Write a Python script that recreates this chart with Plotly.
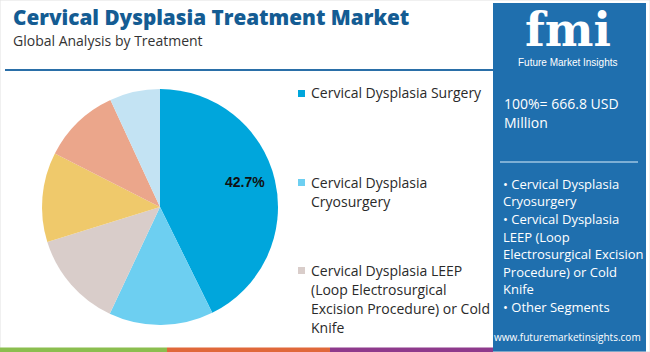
import math
import plotly.graph_objects as go

W, H = 650, 352

categories = [
    "Cervical Dysplasia Surgery",
    "Cervical Dysplasia Cryosurgery",
    "Cervical Dysplasia LEEP (Loop Electrosurgical Excision Procedure) or Cold Knife",
    "Segment 4",
    "Segment 5",
    "Segment 6",
]
shares = [42.7, 14.3, 13.2, 12.3, 10.6, 6.9]
slice_labels = ["42.7%", "", "", "", "", ""]
colors = ["#00A6DC", "#6DCFF1", "#D9CDCA", "#EFC96B", "#EBA68B", "#C3E3F3"]

legend_lines = [
    ["Cervical Dysplasia Surgery"],
    ["Cervical Dysplasia", "Cryosurgery"],
    ["Cervical Dysplasia LEEP", "(Loop Electrosurgical", "Excision Procedure) or Cold", "Knife"],
]
legend_tops = [93, 182, 270]

title = "Cervical Dysplasia Treatment Market"
subtitle = "Global Analysis by Treatment"
total_lines = ["100%= 666.8 USD", "Million"]
bullet_lines = [
    "• Cervical Dysplasia", "Cryosurgery", "• Cervical Dysplasia", "LEEP (Loop",
    "Electrosurgical Excision", "Procedure) or Cold", "Knife", "• Other Segments",
]
url = "www.futuremarketinsights.com"

def px(x):
    return x / W

def py(y):
    return 1 - y / H

FONT = "Open Sans"
PANEL = "#1F6FAE"

# pie geometry (pixels)
CX, CY, R = 160, 207, 118

fig = go.Figure()
fig.add_trace(go.Pie(
    labels=categories, values=shares, textinfo="none",
    sort=False, direction="clockwise", rotation=0,
    marker=dict(colors=colors, line=dict(width=0)),
    domain=dict(x=[px(CX - R), px(CX + R)], y=[py(CY + R), py(CY - R)]),
    showlegend=False, hoverinfo="label+percent",
))

shapes = []
ann = []

# slice labels placed along each slice's mid angle
total = sum(shares)
cum = 0.0
for v, lab in zip(shares, slice_labels):
    mid = (cum + v / 2) / total * 2 * math.pi
    cum += v
    if not lab:
        continue
    rr = 0.75 * R
    ann.append(dict(text=f"<b>{lab}</b>", x=px(CX + rr * math.sin(mid) - 1),
                    y=py(CY - rr * math.cos(mid) - 5), xanchor="center", yanchor="middle",
                    font=dict(family="Arial", size=14, color="#111111")))

# header rule
shapes.append(dict(type="line", xref="paper", yref="paper", x0=px(5), x1=px(493),
                   y0=py(70), y1=py(70), line=dict(color="#2A6FA8", width=2)))
# right panel
shapes.append(dict(type="rect", xref="paper", yref="paper", x0=px(493), x1=px(646),
                   y0=py(352), y1=py(3), fillcolor=PANEL, line=dict(width=0), layer="below"))
# separator in panel
shapes.append(dict(type="line", xref="paper", yref="paper", x0=px(500), x1=px(638),
                   y0=py(162), y1=py(162), line=dict(color="#9EC4E2", width=1.5)))
# bottom color strip
for x0, x1, c in [(0, 167, "#8BBE4F"), (167, 330, "#E0683A"), (330, 493, "#8E3A8C")]:
    shapes.append(dict(type="rect", xref="paper", yref="paper", x0=px(x0), x1=px(x1),
                       y0=py(352), y1=py(347.5), fillcolor=c, line=dict(width=0)))
# outer light border
shapes.append(dict(type="rect", xref="paper", yref="paper", x0=0, x1=1, y0=0, y1=1,
                   line=dict(color="#E2E2E2", width=1), layer="below"))

ann.append(dict(text=title, x=px(11), y=py(17), xanchor="left", yanchor="middle",
                font=dict(family=FONT, size=20.7, color="#145C93", weight=800)))
ann.append(dict(text=subtitle, x=px(11), y=py(41), xanchor="left", yanchor="middle",
                font=dict(family=FONT, size=14, color="#333333")))

# legend
for i, (lines, top) in enumerate(zip(legend_lines, legend_tops)):
    shapes.append(dict(type="rect", xref="paper", yref="paper", x0=px(298), x1=px(305),
                       y0=py(top + 4), y1=py(top - 3), fillcolor=colors[i], line=dict(width=0)))
    for j, ln in enumerate(lines):
        ann.append(dict(text=ln, x=px(309), y=py(top + j * 19), xanchor="left", yanchor="middle",
                        font=dict(family=FONT, size=14, color="#2A2A2A")))

# logo
ann.append(dict(text="<b>fmi</b>", x=px(568), y=py(30), xanchor="center", yanchor="middle",
                font=dict(family="DejaVu Serif", size=46, color="white")))
ann.append(dict(text="Future Market Insights", x=px(567), y=py(63), xanchor="center", yanchor="middle",
                font=dict(family="Liberation Sans", size=10, color="white")))

# panel text
for j, ln in enumerate(total_lines):
    ann.append(dict(text=ln, x=px(502), y=py(103 + j * 19), xanchor="left", yanchor="middle",
                    font=dict(family=FONT, size=14, color="white")))
for j, ln in enumerate(bullet_lines):
    ann.append(dict(text=ln, x=px(501), y=py(184 + j * 17.5), xanchor="left", yanchor="middle",
                    font=dict(family=FONT, size=13, color="white")))
ann.append(dict(text=url, x=px(567), y=py(337), xanchor="center", yanchor="middle",
                font=dict(family=FONT, size=10, color="white")))

for a in ann:
    a.update(xref="paper", yref="paper", showarrow=False)

fig.update_layout(width=W, height=H, margin=dict(l=0, r=0, t=0, b=0),
                  paper_bgcolor="white", plot_bgcolor="white",
                  shapes=shapes, annotations=ann)
fig.write_html("out.html")
